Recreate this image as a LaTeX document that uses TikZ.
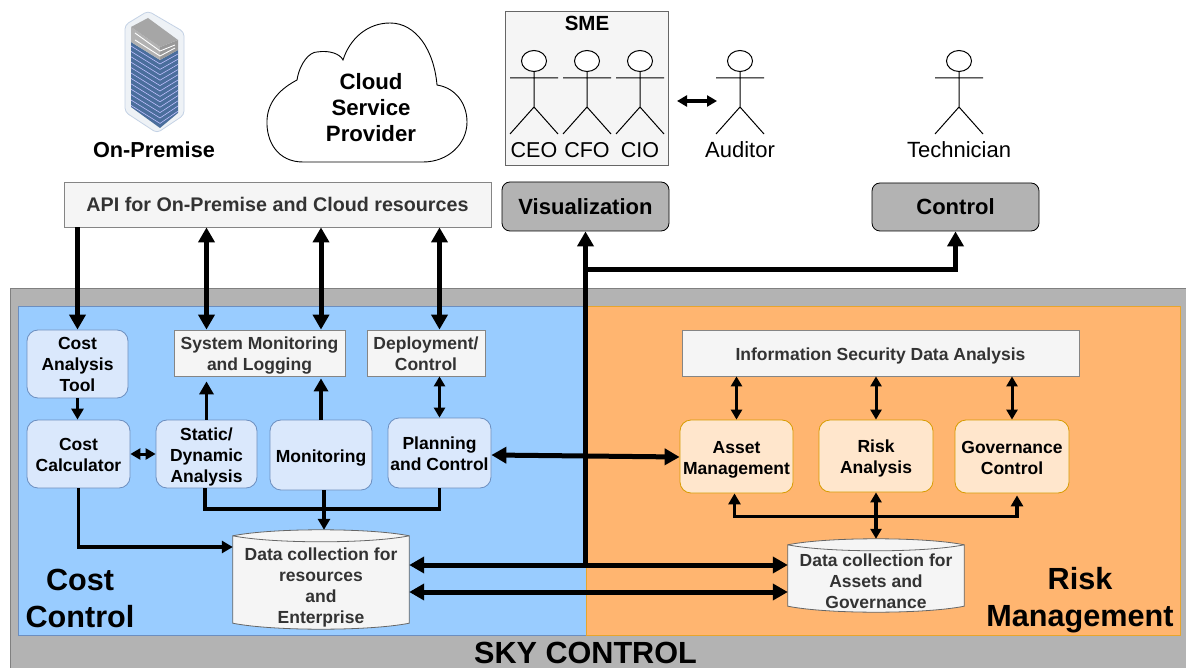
\documentclass[tikz,border=0pt]{standalone}
\usepackage{fontspec}
\setmainfont{Liberation Sans}
\usetikzlibrary{arrows.meta,calc}
\definecolor{boxgray}{HTML}{F5F5F5}
\definecolor{txtgray}{HTML}{333333}
\definecolor{linegray}{HTML}{666666}
\definecolor{skygray}{HTML}{B3B3B3}
\definecolor{bluebg}{HTML}{99CCFF}
\definecolor{orangebg}{HTML}{FFB570}
\definecolor{bluebox}{HTML}{DAE8FC}
\definecolor{blueline}{HTML}{6C8EBF}
\definecolor{orangebox}{HTML}{FFE6CC}
\definecolor{orangeline}{HTML}{D79B00}
\definecolor{rackblue}{HTML}{4A6E9C}
\definecolor{rackhull}{HTML}{EEF2F6}
\newcommand{\dn}[2]{\raisebox{-#1pt}[\height][\depth]{\begin{tabular}{@{}c@{}}#2\end{tabular}}}
\tikzset{
  x=1pt,y=-1pt,
  greybox/.style={draw=linegray!80,fill=boxgray,text=txtgray,inner sep=0pt,align=center,line width=.8pt,font=\fontsize{17.5}{21}\selectfont\bfseries},
  bluenode/.style={draw=blueline,fill=bluebox,rounded corners=11pt,inner sep=0pt,align=center,line width=.8pt,font=\fontsize{17.5}{21}\selectfont\bfseries},
  orangenode/.style={draw=orangeline,fill=orangebox,rounded corners=11pt,inner sep=0pt,align=center,line width=.8pt,font=\fontsize{17.5}{21}\selectfont\bfseries},
  darknode/.style={draw=black,fill=skygray,rounded corners=8pt,inner sep=0pt,align=center,line width=.8pt,font=\fontsize{22}{26}\selectfont\bfseries},
  big/.style={inner sep=0pt,align=center,font=\fontsize{30.6}{37}\selectfont\bfseries},
  plainlbl/.style={inner sep=0pt,font=\fontsize{22}{26}\selectfont},
  dbtext/.style={inner sep=0pt,align=center,text=txtgray,font=\fontsize{17.5}{21}\selectfont\bfseries},
  conn/.style={line width=#1,-{Triangle[length=15pt,width=16pt]}},
  conn/.default=5pt,
  bconn/.style={line width=#1,{Triangle[length=15pt,width=16pt]}-{Triangle[length=15pt,width=16pt]}},
  bconn/.default=5pt,
  mconn/.style={line width=3.5pt,-{Triangle[length=11pt,width=12pt]}},
  mbconn/.style={line width=3pt,{Triangle[length=10pt,width=11pt]}-{Triangle[length=10pt,width=11pt]}},
  stick/.style={draw=black,line width=1pt},
}
\newcommand{\actor}[1]{%
  \draw[stick,fill=white] (#1,61) ellipse [x radius=12.5,y radius=10.5];
  \draw[stick] (#1,71.5) -- (#1,107) (#1-24,78) -- (#1+24,78)
     (#1-24,134) -- (#1,107) -- (#1+24,134);
}
\newcommand{\cyl}[1]{%
  \draw[draw=linegray,fill=boxgray,line width=.8pt] ($(#1.north west)+(0,6)$) -- ($(#1.south west)+(0,-5)$)
    .. controls +(40,8) and +(-40,8) .. ($(#1.south east)+(0,-5)$) -- ($(#1.north east)+(0,6)$)
    .. controls +(-40,-8) and +(40,-8) .. ($(#1.north west)+(0,6)$) -- cycle;
  \draw[draw=linegray,line width=.8pt] ($(#1.north west)+(0,6)$) .. controls +(40,8) and +(-40,8) .. ($(#1.north east)+(0,6)$);
}
\begin{document}
\begin{tikzpicture}
\useasboundingbox (0,0) rectangle (1186,668);
\fill[white] (0,0) rectangle (1186,668);
% backgrounds
\draw[fill=skygray,draw=gray,line width=1pt] (10,289) rectangle (1192,675);
\draw[fill=bluebg,draw=blueline,line width=.8pt] (18,306) rectangle (586,635);
\draw[fill=orangebg,draw=orangeline!60!orangebg,line width=.8pt] (586,306) rectangle (1180,635);
% server icon
\fill[rackhull,draw=blueline!40,line width=.8pt,rounded corners=4pt] (148,11) -- (184,32) -- (184,115) -- (157,133) -- (125,112) -- (125,25) -- cycle;
\fill[rackblue] (131,42) -- (160,60) -- (178,50) -- (178,113) -- (160,128) -- (131,107) -- cycle;
\fill[gray!60] (131,27) -- (160,47) -- (160,60) -- (131,42) -- cycle;
\fill[gray!80] (160,47) -- (178,40) -- (178,50) -- (160,60) -- cycle;
\fill[gray!70] (131,27) -- (148,18) -- (178,40) -- (160,47) -- cycle;
\foreach \k in {0,...,11}{
  \draw[white!75!blue,line width=.6pt] (131,{46+\k*5.4}) -- (160,{64+\k*5.4}) -- (178,{54+\k*5.2});
}
\draw[white,line width=.9pt] (135,33) -- (160,51) -- (175,45);
\draw[white,line width=.9pt] (135,40) -- (160,56) -- (175,48);
\node[inner sep=0pt,font=\fontsize{21.7}{25}\selectfont\bfseries] (onprem) at (154,150) {On-Premise};
% cloud
\draw[line width=.9pt,fill=white] (303,162)
  .. controls (278,162) and (266,142) .. (267,120)
  .. controls (268,100) and (282,88) .. (297,80)
  .. controls (300,62) and (310,52) .. (317,52)
  .. controls (330,50) and (340,54) .. (343,60)
  .. controls (350,38) and (368,23) .. (390,23)
  .. controls (416,23) and (434,50) .. (437,85)
  .. controls (456,88) and (467,104) .. (467,122)
  .. controls (467,144) and (448,162) .. (423,162) -- cycle;
\node[inner sep=0pt,align=center,font=\fontsize{22.2}{26}\selectfont\bfseries] (cloud) at (371,108) {Cloud\\Service\\Provider};
% SME
\node[draw=linegray,fill=boxgray,line width=.8pt,minimum width=163,minimum height=154,inner sep=0pt] (sme) at (586.5,88) {};
\node[inner sep=0pt,font=\fontsize{20.5}{24}\selectfont\bfseries] (smet) at (587,23) {SME};
\actor{534}\actor{587}\actor{640}\actor{740}\actor{959}
\node[plainlbl,font=\fontsize{21.5}{25}\selectfont] (ceo) at (534,150) {CEO};
\node[plainlbl,font=\fontsize{21.5}{25}\selectfont] (cfo) at (587,150) {CFO};
\node[plainlbl,font=\fontsize{21.5}{25}\selectfont] (cio) at (640,150) {CIO};
\node[plainlbl] (aud) at (740,150) {Auditor};
\node[plainlbl] (tech) at (959,150) {Technician};
\coordinate (audl) at (717,101);
\coordinate (smer) at (677,101);
% top row
\node[greybox,minimum width=427,minimum height=45,font=\fontsize{19.7}{22}\selectfont\bfseries] (api) at (277.5,204.5) {API for On-Premise and Cloud resources};
\node[darknode,minimum width=167,minimum height=49] (vis) at (585.5,206.5) {Visualization};
\node[darknode,minimum width=167,minimum height=48] (ctl) at (955.5,207) {Control};
% left nodes
\node[bluenode,minimum width=101,minimum height=68] (cat) at (77.5,364) {\dn{2}{Cost\\Analysis\\Tool}};
\node[bluenode,minimum width=103,minimum height=68] (calc) at (78.5,454) {\dn{3}{Cost\\Calculator}};
\node[bluenode,minimum width=101,minimum height=68] (static) at (206.5,454) {\dn{3}{Static/\\Dynamic\\Analysis}};
\node[bluenode,minimum width=102,minimum height=70] (mon) at (321,455) {\dn{3}{Monitoring}};
\node[bluenode,minimum width=103,minimum height=70] (plan) at (439.5,453) {\dn{3}{Planning\\and Control}};
\node[greybox,minimum width=171,minimum height=46] (sys) at (259.5,353) {\dn{3}{System Monitoring\\and Logging}};
\node[greybox,minimum width=118,minimum height=46] (dep) at (426,353) {\dn{3}{Deployment/\\Control}};
% right nodes
\node[greybox,minimum width=397,minimum height=46] (info) at (880.5,353) {\dn{3}{Information Security Data Analysis}};
\node[orangenode,minimum width=113,minimum height=73] (asset) at (736.5,456.5) {\dn{3}{Asset\\Management}};
\node[orangenode,minimum width=114,minimum height=72] (risk) at (876,456) {\dn{3}{Risk\\Analysis}};
\node[orangenode,minimum width=114,minimum height=73] (gov) at (1012,456.5) {\dn{3}{Governance\\Control}};
% cylinders
\node[minimum width=176,minimum height=98,inner sep=0pt] (dbl) at (321,579) {};
\cyl{dbl}
\node[dbtext] (dblt) at (321,587) {Data collection for\\resources\\and\\Enterprise};
\node[minimum width=176,minimum height=72,inner sep=0pt] (dbr) at (876,575) {};
\cyl{dbr}
\node[dbtext] (dbrt) at (876,581) {Data collection for\\Assets and\\Governance};
% big labels
\node[big] (cc) at (80,598) {Cost\\Control};
\node[big] (rm) at (1080,600) {Risk\\Management};
\node[big] (sky) at (585.5,653) {SKY CONTROL};
% connectors
\draw[mbconn,line width=3.5pt] (smer) -- (audl);
\draw[conn] (api.south -| cat) -- (cat.north);
\draw[bconn] (api.south -| static) -- (sys.north -| static);
\draw[bconn] (api.south -| mon) -- (sys.north -| mon);
\draw[bconn] (api.south -| plan) -- (dep.north -| plan);
\draw[mconn] (cat.south) -- (calc.north -| cat);
\draw[mconn,-{Triangle[length=13pt,width=14pt]}] (static.north) -- ($(sys.south -| static)+(0,5)$);
\draw[mconn,-{Triangle[length=13pt,width=14pt]}] (mon.north) -- ($(sys.south -| mon)+(0,2)$);
\draw[mbconn] (plan.north -| plan) -- (dep.south -| plan);
\draw[mbconn] (calc.east) -- (static.west);
\draw[line width=3.5pt,line join=miter] ($(static.south)+(-1.5,0)$) |- ($(mon.south)+(0,18.5)$) -| ($(plan.south)+(0,0)$);
\draw[mconn] ($(mon.south)+(3,0)$) -- ($(dbl.north)+(3,0)$);
\draw[mconn,rounded corners=0pt] (calc.south) |- (dbl.west |- 0,547);
\draw[bconn] (plan.east |- 0,455) -- (asset.west |- 0,457);
\draw[line width=5pt,-{Triangle[length=15pt,width=16pt]}] (vis.south |- 0,564) -- (vis.south);
\draw[line width=5pt,-{Triangle[length=15pt,width=16pt]}] (vis.south |- 0,270) -| (ctl.south);
\draw[bconn] (dbl.east |- 0,565) -- (dbr.west |- 0,565);
\draw[bconn] (dbl.east |- 0,592) -- (dbr.west |- 0,592);
\draw[mbconn] (info.south -| asset) -- (asset.north);
\draw[mbconn] (info.south -| risk) -- (risk.north);
\draw[mbconn] (info.south -| gov) -- (gov.north);
\draw[line width=3.5pt,{Triangle[length=11pt,width=12pt]}-{Triangle[length=11pt,width=12pt]}] ($(asset.south)+(-2,0)$) |- (876,516.5) -| ($(gov.south)+(5,2)$);
\draw[mbconn,line width=3.5pt] (risk.south) -- (risk.south |- dbr.north);
\end{tikzpicture}
\end{document}
